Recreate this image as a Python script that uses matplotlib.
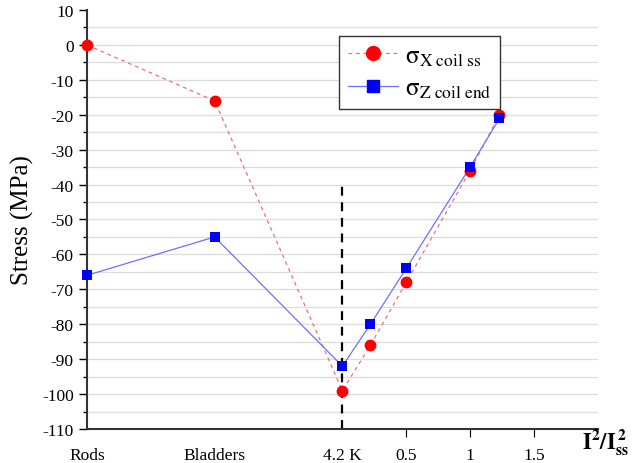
import numpy as np
import matplotlib
matplotlib.use('Agg')
import matplotlib.pyplot as plt

plt.rcParams['font.family'] = 'Liberation Serif'
plt.rcParams['mathtext.fontset'] = 'stix'
plt.rcParams['axes.unicode_minus'] = False

# x positions: Rods=-2, Bladders=-1, 4.2 K=0, then I^2/Iss^2
x_pos = [-2, -1, 0, 0.22, 0.5, 1.0, 1.23]
sigma_x = [0, -16, -99, -86, -68, -36, -20]
sigma_z = [-66, -55, -92, -80, -64, -35, -21]

tick_pos = [-2, -1, 0, 0.5, 1, 1.5]
tick_labels = ['Rods', 'Bladders', '4.2 K', '0.5', '1', '1.5']

fig = plt.figure(figsize=(6.34, 4.64), dpi=100)
ax = fig.add_axes([0.137, 0.0733, 0.806, 0.903])

for y in np.arange(-105, 10, 5):
    ax.axhline(y, color='#dddddd', lw=0.9, zorder=0)

ax.plot(x_pos, sigma_x, color='#f07070', lw=0.9, ls=(0, (3, 3)), zorder=2)
ax.plot(x_pos, sigma_z, color='#7070ff', lw=0.9, ls='-', zorder=2)
ax.plot(x_pos, sigma_x, 'o', color='red', ms=8.5, mew=0, zorder=3, clip_on=False)
ax.plot(x_pos, sigma_z, 's', color='blue', ms=7, mew=0, zorder=4, clip_on=False)

ax.plot([0, 0], [-110, -40], color='black', lw=1.6, ls=(0, (4, 3)), zorder=1)

# legend proxies
h1, = ax.plot([], [], color='#f07070', lw=0.9, ls=(0, (3, 3)), marker='o',
              mfc='red', mec='red', ms=10)
h2, = ax.plot([], [], color='#7070ff', lw=0.9, marker='s',
              mfc='blue', mec='blue', ms=8)
leg = ax.legend([h1, h2], [r'$\mathrm{\sigma}_{\rm X\ coil\ ss}$',
                           r'$\mathrm{\sigma}_{\rm Z\ coil\ end}$'],
                loc='upper left', bbox_to_anchor=(0.493, 0.938), borderaxespad=0,
                fontsize=18, fancybox=False, framealpha=1, edgecolor='#333333',
                handlelength=2.0, handletextpad=0.3, borderpad=0.35,
                labelspacing=0.38)
leg.get_frame().set_linewidth(1.0)

ax.set_xlim(-2, 2)
ax.set_ylim(-110, 10)
ax.set_xticks(tick_pos)
ax.set_xticklabels(tick_labels, fontsize=12.5)
ax.set_yticks(np.arange(-110, 11, 10))
ax.set_yticks(np.arange(-105, 10, 10), minor=True)
ax.tick_params(axis='y', labelsize=12.5, length=6, width=1, direction='out')
ax.tick_params(axis='y', which='minor', length=3, width=1)
ax.tick_params(axis='x', length=6, width=0.8, direction='out', pad=7)
ax.xaxis.get_major_ticks()[0].tick1line.set_visible(False)
ax.xaxis.get_major_ticks()[1].tick1line.set_visible(False)
ax.xaxis.get_major_ticks()[2].tick1line.set_visible(False)

for s in ['top', 'right']:
    ax.spines[s].set_visible(False)
for s in ['left', 'bottom']:
    ax.spines[s].set_linewidth(1.5)
    ax.spines[s].set_color('#333333')

ax.set_ylabel('Stress (MPa)', fontsize=18, labelpad=6)
fig.text(0.955, 0.045, r'$\mathbf{I^2/I_{ss}^{\,2}}$', fontsize=16, ha='center', va='center')

fig.savefig('out.png', dpi=100)
